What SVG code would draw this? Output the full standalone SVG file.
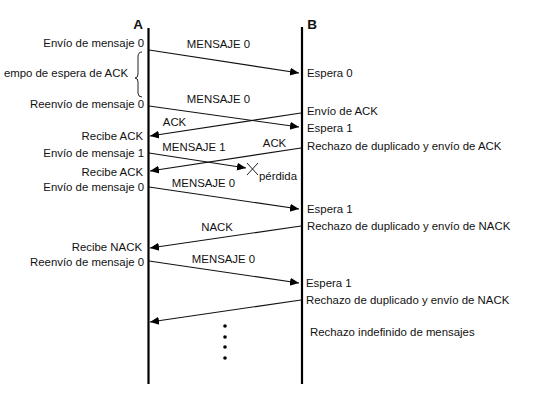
<svg xmlns="http://www.w3.org/2000/svg" width="534" height="400" viewBox="0 0 534 400">
<style>
text{font-family:"Liberation Sans",Arial,sans-serif;font-size:11.4px;fill:#111}
.end{text-anchor:end}
.mid{text-anchor:middle}
.hdr{font-size:13.5px;font-weight:bold;text-anchor:middle}
.life{stroke:#000;stroke-width:2.2;fill:none}
.msg{stroke:#111;stroke-width:1.1;fill:none;marker-end:url(#ah)}
.thin{stroke:#222;stroke-width:1;fill:none}
</style>
<defs>
<marker id="ah" markerWidth="10" markerHeight="10" refX="9" refY="5" orient="auto" markerUnits="userSpaceOnUse">
<path d="M0,1 L9,5 L0,9 z" fill="#000"/>
</marker>
</defs>
<rect width="534" height="400" fill="#fff"/>
<g id="nodeA">
<text class="hdr" x="138" y="29">A</text>
<line class="life" x1="148.5" y1="28" x2="148.5" y2="384"/>
</g>
<g id="nodeB">
<text class="hdr" x="312" y="29">B</text>
<line class="life" x1="302" y1="27" x2="302" y2="384"/>
</g>
<g id="labelsA">
<text class="end" x="144" y="47">Envío de mensaje 0</text>
<text class="end" x="128" y="77">empo de espera de ACK</text>
<path class="thin" d="M142,52 Q138,52 138,57 L138,74 Q138,78 135,78 Q138,78 138,82 L138,93 Q138,97 142,97"/>
<text class="end" x="144" y="108">Reenvío de mensaje 0</text>
<text class="end" x="143" y="140">Recibe ACK</text>
<text class="end" x="144" y="157">Envío de mensaje 1</text>
<text class="end" x="143" y="176">Recibe ACK</text>
<text class="end" x="144" y="191">Envío de mensaje 0</text>
<text class="end" x="142" y="251">Recibe NACK</text>
<text class="end" x="144" y="266">Reenvío de mensaje 0</text>
</g>
<g id="labelsB">
<text x="307" y="77">Espera 0</text>
<text x="307" y="115">Envío de ACK</text>
<text x="307" y="132">Espera 1</text>
<text x="307" y="150">Rechazo de duplicado y envío de ACK</text>
<text x="307" y="213">Espera 1</text>
<text x="307" y="230">Rechazo de duplicado y envío de NACK</text>
<text x="306" y="287">Espera 1</text>
<text x="306" y="304">Rechazo de duplicado y envío de NACK</text>
<text x="310" y="336">Rechazo indefinido de mensajes</text>
</g>
<g id="connectors">
<line class="msg" x1="149" y1="50" x2="299" y2="73"/>
<line class="msg" x1="149" y1="106" x2="299" y2="127"/>
<line class="msg" x1="301" y1="113" x2="150" y2="136"/>
<line class="msg" x1="301" y1="148" x2="150" y2="171"/>
<line class="msg" x1="149" y1="153" x2="246" y2="168"/>
<line class="msg" x1="149" y1="187" x2="299" y2="209"/>
<line class="msg" x1="301" y1="226" x2="150" y2="248"/>
<line class="msg" x1="149" y1="261" x2="299" y2="283"/>
<line class="msg" x1="301" y1="300" x2="150" y2="322"/>
<text class="mid" x="218.5" y="48">MENSAJE 0</text>
<text class="mid" x="218.5" y="103">MENSAJE 0</text>
<text class="mid" x="174.5" y="126">ACK</text>
<text class="mid" x="194" y="151">MENSAJE 1</text>
<text class="mid" x="274.5" y="147">ACK</text>
<text class="mid" x="203.5" y="187">MENSAJE 0</text>
<text class="mid" x="217" y="231">NACK</text>
<text class="mid" x="223.5" y="263">MENSAJE 0</text>
</g>
<g id="loss">
<line class="thin" x1="247" y1="163" x2="258" y2="175"/>
<line class="thin" x1="247" y1="175" x2="258" y2="163"/>
<text x="259" y="180">pérdida</text>
</g>
<g id="ellipsis" fill="#000">
<circle cx="225" cy="326" r="1.8"/>
<circle cx="225" cy="337" r="1.8"/>
<circle cx="225" cy="347" r="1.8"/>
<circle cx="225" cy="358" r="1.8"/>
</g>
</svg>
